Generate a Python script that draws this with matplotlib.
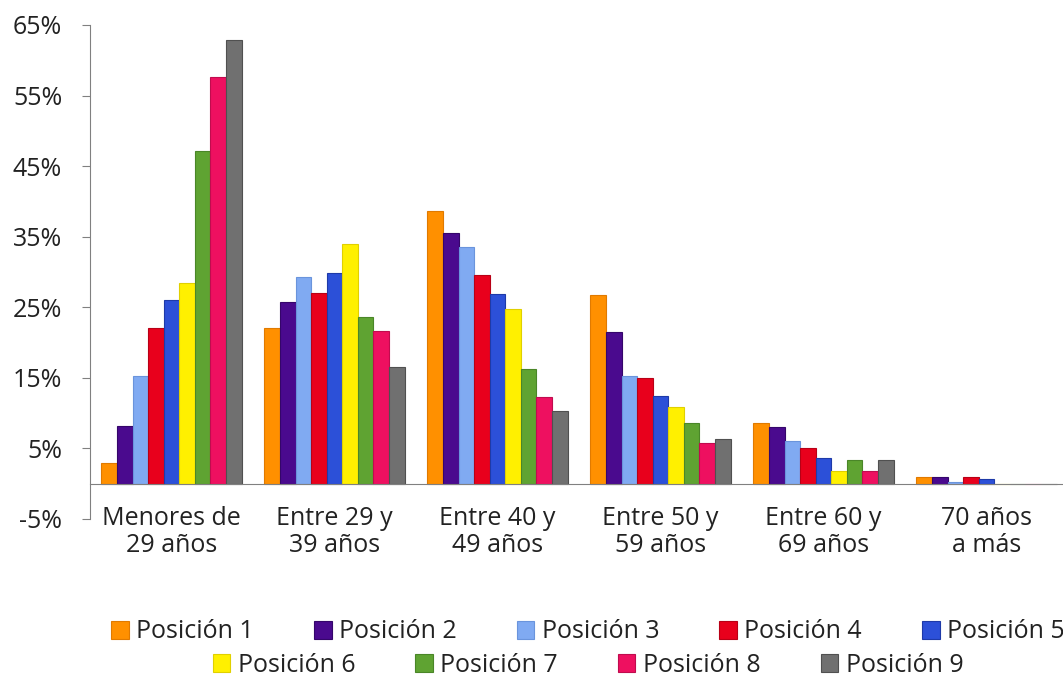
import matplotlib
matplotlib.use("Agg")
import matplotlib.pyplot as plt
import numpy as np
from matplotlib.patches import Rectangle, Patch

categories = ["Menores de\n29 años", "Entre 29 y\n39 años", "Entre 40 y\n49 años",
              "Entre 50 y\n59 años", "Entre 60 y\n69 años", "70 años\na más"]
series_names = ["Posición 1", "Posición 2", "Posición 3", "Posición 4", "Posición 5",
                "Posición 6", "Posición 7", "Posición 8", "Posición 9"]
pos1 = [3.0, 22.0, 38.6, 26.7, 8.6, 1.0]
pos2 = [8.2, 25.8, 35.5, 21.5, 8.1, 1.0]
pos3 = [15.3, 29.3, 33.6, 15.3, 6.1, 0.2]
pos4 = [22.0, 27.0, 29.6, 15.0, 5.1, 1.0]
pos5 = [26.1, 29.9, 26.9, 12.4, 3.7, 0.7]
pos6 = [28.4, 33.9, 24.7, 10.8, 1.8, 0.0]
pos7 = [47.1, 23.6, 16.3, 8.6, 3.4, 0.0]
pos8 = [57.7, 21.7, 12.3, 5.7, 1.8, 0.0]
pos9 = [62.9, 16.6, 10.3, 6.4, 3.4, 0.0]
series = [pos1, pos2, pos3, pos4, pos5, pos6, pos7, pos8, pos9]
yticks = [-5, 5, 15, 25, 35, 45, 55, 65]

colors = ["#FF9000", "#4A0A8E", "#80AAF2", "#E8001C", "#2C50D8",
          "#FFF000", "#5FA332", "#EE1060", "#707070"]
edges = ["#E07A00", "#35066A", "#6A94DC", "#B80016", "#1E3AA8",
         "#E0D000", "#4A8628", "#C00C4E", "#505050"]

plt.rcParams['font.family'] = ['Open Sans', 'DejaVu Sans']

W, H = 1063, 679
fig = plt.figure(figsize=(W / 100, H / 100), dpi=100)
ax = fig.add_axes([90 / W, 1 - 519 / H, (1068 - 90) / W, (519 - 25) / H])

x = np.arange(len(categories))
bw = 0.0955
n = len(series)
for i, (vals, c, e, name) in enumerate(zip(series, colors, edges, series_names)):
    off = (i - (n - 1) / 2) * bw
    ax.bar(x + off, vals, width=bw, color=c, edgecolor=e, linewidth=0.8, label=name, zorder=2)

for s in ["top", "right"]:
    ax.spines[s].set_visible(False)
ax.spines["left"].set_color("#808080")
ax.spines["bottom"].set_color("#808080")
ax.spines["bottom"].set_position(("data", 0))
ax.spines["bottom"].set_zorder(3)

ax.set_xlim(-0.5, 5.5)
ax.set_ylim(-5, 65)
ax.set_yticks(yticks)
ax.set_yticklabels([f"{t}%" for t in yticks], fontsize=18, color="#222222")
ax.set_xticks(x)
ax.set_xticklabels(categories, fontsize=18, color="#222222", linespacing=1.1)
ax.tick_params(axis="y", direction="out", length=6, color="#808080", pad=14)
ax.tick_params(axis="x", length=0, pad=16)

# crop effect at bottom of category labels (as in the source image)
fig.add_artist(Rectangle((0, 1 - 600 / H), 1, (600 - 552) / H, transform=fig.transFigure,
                         facecolor="white", edgecolor="none", zorder=5))

handles = [Patch(facecolor=c, edgecolor=e, linewidth=0.8) for c, e in zip(colors, edges)]
leg_kw = dict(frameon=False, fontsize=18, handlelength=0.7, handleheight=0.7,
              handletextpad=0.3, columnspacing=2.4, borderaxespad=0, labelcolor="#222222")
leg1 = fig.legend(handles[:5], series_names[:5], ncol=5, loc="center",
                  bbox_to_anchor=(588 / W, 1 - 632 / H), **leg_kw)
leg2 = fig.legend(handles[5:], series_names[5:], ncol=4, loc="center",
                  bbox_to_anchor=(588 / W, 1 - 665 / H), **leg_kw)

fig.savefig("out.png", dpi=100)
